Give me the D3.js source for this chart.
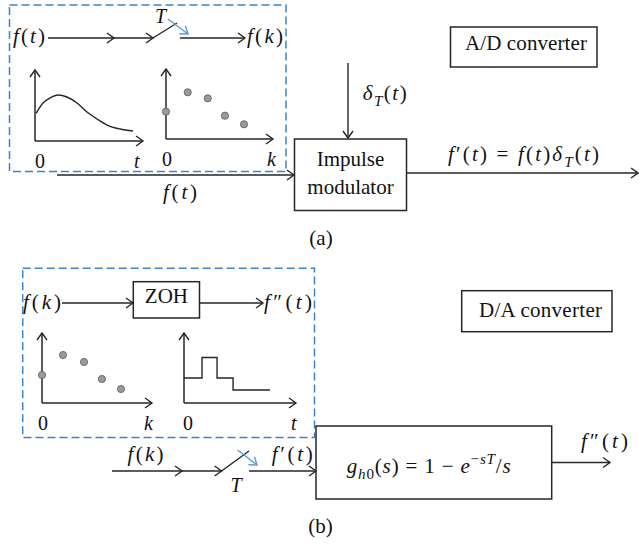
<!DOCTYPE html>
<html><head><meta charset="utf-8">
<script src="https://cdn.jsdelivr.net/npm/d3@7"></script>
<style>html,body{margin:0;padding:0;background:#fff;} svg{display:block;}</style>
</head><body>
<svg id="c" width="639" height="544"></svg>
<script>
// ---------- data (in mini-plot units 0..10) ----------
const contX = [0.1, 0.74, 1.39, 2.13, 2.96, 3.89, 4.81, 5.74, 6.67, 7.87, 9.07];
const contY = [3.9, 5.35, 6.06, 6.48, 6.2, 5.35, 4.08, 3.1, 2.25, 1.69, 1.41];
const sampAX = [0, 2.03, 3.9, 5.51, 7.29];
const sampAY = [3.9, 6.67, 5.81, 3.33, 2.1];
const sampBX = [0, 1.91, 3.82, 5.45, 7.18];
const sampBY = [4.0, 6.86, 5.86, 3.43, 2.0];
const holdX = [0, 1.61, 2.95, 4.38, 7.68];
const holdY = [3.57, 6.5, 3.57, 1.86, 1.86];
const panelLabels = ["(a)", "(b)"];
const boxTexts = ["A/D converter", "Impulse", "modulator", "ZOH", "D/A converter"];

// ---------- helpers ----------
const svg = d3.select('#c');
const INK = '#262626', DASH = '#3d85c6', BLUEA = '#5b9bd5';
const SERIF = 'Liberation Serif';
const FS = 21;

function chevron(x, y, ang, color = INK, L = 7, W = 5) {
  const ux = Math.cos(ang), uy = Math.sin(ang), nx = -uy, ny = ux;
  svg.append('path')
    .attr('d', `M${x - L*ux + W*nx},${y - L*uy + W*ny}L${x},${y}L${x - L*ux - W*nx},${y - L*uy - W*ny}`)
    .attr('fill', 'none').attr('stroke', color).attr('stroke-width', 1.4);
}
function seg(x1, y1, x2, y2, color = INK, w = 1.4) {
  svg.append('line').attr('x1', x1).attr('y1', y1).attr('x2', x2).attr('y2', y2)
    .attr('stroke', color).attr('stroke-width', w);
}
function arrow(x1, y1, x2, y2, color = INK, midX) {
  seg(x1, y1, x2, y2, color);
  const a = Math.atan2(y2 - y1, x2 - x1);
  chevron(x2, y2, a, color);
  if (midX !== undefined) chevron(midX, y1, a, color);
}
function box(x, y, w, h, dashed) {
  const r = svg.append('rect').attr('x', x).attr('y', y).attr('width', w).attr('height', h)
    .attr('fill', 'none').attr('stroke', dashed ? DASH : INK).attr('stroke-width', 1.5);
  if (dashed) r.attr('stroke-dasharray', '8,4');
}
function plain(txt, x, y, anchor = 'start', len, size = FS) {
  const t = svg.append('text').attr('x', x).attr('y', y)
    .attr('font-family', SERIF).style('font-family', SERIF)
    .attr('font-size', size).attr('fill', '#111').attr('text-anchor', anchor).text(txt);
  if (len) t.attr('textLength', len).attr('lengthAdjust', 'spacing');
  return t;
}
// math spec: tokens split by '|', prefixes: * italic, _ subscript, ^ superscript
function math(spec, x, y, len, size = FS) {
  const t = svg.append('text').attr('x', x).attr('y', y)
    .attr('font-family', SERIF).style('font-family', SERIF)
    .attr('font-size', size).attr('fill', '#111');
  let shift = 0;
  spec.split('|').forEach(tok => {
    let it = false, sub = false, sup = false;
    while (tok.length > 1 && '*_^'.includes(tok[0])) {
      if (tok[0] === '*') it = true; else if (tok[0] === '_') sub = true; else sup = true;
      tok = tok.slice(1);
    }
    const ts = t.append('tspan').text(tok);
    if (it) ts.attr('font-style', 'italic');
    const target = sub ? 0.28*size : sup ? -0.42*size : 0;
    if (target !== shift) { ts.attr('dy', target - shift); shift = target; }
    if (sub || sup) ts.attr('font-size', size*0.72);
  });
  if (len) t.attr('textLength', len).attr('lengthAdjust', 'spacing');
}
function mini(fr, xl, zx, vx) {
  const x = d3.scaleLinear().domain([0, 10]).range([fr.x0, fr.x1]);
  const y = d3.scaleLinear().domain([0, 10]).range([fr.y0, fr.y1]);
  const g = svg.append('g');
  // axes drawn from the scales' ranges
  g.append('line').attr('x1', x(0)).attr('x2', x(10)).attr('y1', y(0)).attr('y2', y(0))
    .attr('stroke', INK).attr('stroke-width', 1.5);
  g.append('line').attr('x1', x(0)).attr('x2', x(0)).attr('y1', y(0)).attr('y2', y(10))
    .attr('stroke', INK).attr('stroke-width', 1.5);
  chevron(x(10), y(0), 0);
  chevron(x(0), y(10), -Math.PI/2);
  plain('0', fr.x0 + zx, fr.y0 + 27, 'middle', null, 20);
  math('*' + xl, fr.x1 + vx, fr.y0 + 27, null, 20);
  return {x, y, g};
}

// ================= (a) =================
box(9.5, 5, 276.5, 166.5, true);
math('*f|(|*t|)', 13, 43, 32);
arrow(48, 38, 153, 38, INK, 114);
seg(153, 38, 177, 23);
arrow(180, 38, 245, 38);
math('*f|(|*k|)', 247, 43, 36);
math('*T', 155, 23, null, 20);
arrow(168, 19, 188, 34, BLUEA);

{
  const m = mini({x0: 35, x1: 143, y0: 141, y1: 70}, 't', 5, -9);
  const pts = contX.map((v, i) => [v, contY[i]]);
  m.g.append('path').datum(pts)
    .attr('d', d3.line().x(d => m.x(d[0])).y(d => m.y(d[1])).curve(d3.curveMonotoneX))
    .attr('fill', 'none').attr('stroke', INK).attr('stroke-width', 1.4);
}
{
  const m = mini({x0: 166, x1: 273, y0: 139, y1: 69}, 'k', 1, -6);
  m.g.selectAll('circle.s').data(sampAX.map((v, i) => [v, sampAY[i]])).join('circle')
    .attr('cx', d => m.x(d[0])).attr('cy', d => m.y(d[1])).attr('r', 3.6)
    .attr('fill', '#9a9a9a').attr('stroke', '#5a5a5a').attr('stroke-width', 0.8);
}

arrow(57, 175, 294, 175);
math('*f|(|*t|)', 163, 199, 34);
box(294.5, 139, 112, 71.5);
plain(boxTexts[1], 350.5, 165.5, 'middle');
plain(boxTexts[2], 350.5, 194, 'middle');
arrow(348, 63, 348, 138);
math('*δ|_*T|(|*t|)', 362.7, 100, 44);
box(450.5, 27, 146.5, 40);
plain(boxTexts[0], 465, 50, 'start', 122);
arrow(406.5, 173, 638, 173);
math('*f|′|(|*t|) = |*f|(|*t|)|*δ|_*T|(|*t|)', 448, 161, 151);
plain(panelLabels[0], 321, 245, 'middle');

// ================= (b) =================
box(22.7, 268.3, 291.8, 169.2, true);
math('*f|(|*k|)', 23, 308.5, 38);
arrow(62, 303, 133, 303);
box(133.3, 281.7, 66.2, 36.3);
plain(boxTexts[3], 166.4, 303, 'middle');
arrow(199.5, 303, 263, 303);
math('*f|″|(|*t|)', 264, 308.5, 48);

{
  const m = mini({x0: 42, x1: 152, y0: 403, y1: 333}, 'k', 1, -8);
  m.g.selectAll('circle.s').data(sampBX.map((v, i) => [v, sampBY[i]])).join('circle')
    .attr('cx', d => m.x(d[0])).attr('cy', d => m.y(d[1])).attr('r', 3.6)
    .attr('fill', '#9a9a9a').attr('stroke', '#5a5a5a').attr('stroke-width', 0.8);
}
{
  const m = mini({x0: 184, x1: 296, y0: 403, y1: 333}, 't', 4, -5);
  const pts = holdX.map((v, i) => [v, holdY[i]]);
  m.g.append('path').datum(pts)
    .attr('d', d3.line().x(d => m.x(d[0])).y(d => m.y(d[1])).curve(d3.curveStepAfter))
    .attr('fill', 'none').attr('stroke', INK).attr('stroke-width', 1.4);
}

arrow(112, 471, 221.6, 471, INK, 182);
seg(221.6, 471, 249, 451);
arrow(237.5, 450, 257, 465, BLUEA);
math('*T', 230.6, 492, null, 20);
arrow(249, 471, 316, 471);
math('*f|(|*k|)', 127.6, 461, 36);
math('*f|′|(|*t|)', 271.7, 461, 41);
box(316, 426, 235.7, 73);
math('*g|_*h|_0|(|*s|) = 1 − |*e|^−|^*s|^*T|/|*s', 346.7, 473, 164);
arrow(551.7, 462.5, 610, 462.5);
math('*f|″|(|*t|)', 581, 448, 47);
box(461.7, 290.7, 150.3, 41);
plain(boxTexts[4], 479, 317, 'start', 123);
plain(panelLabels[1], 320.5, 533, 'middle');
</script>
</body></html>
